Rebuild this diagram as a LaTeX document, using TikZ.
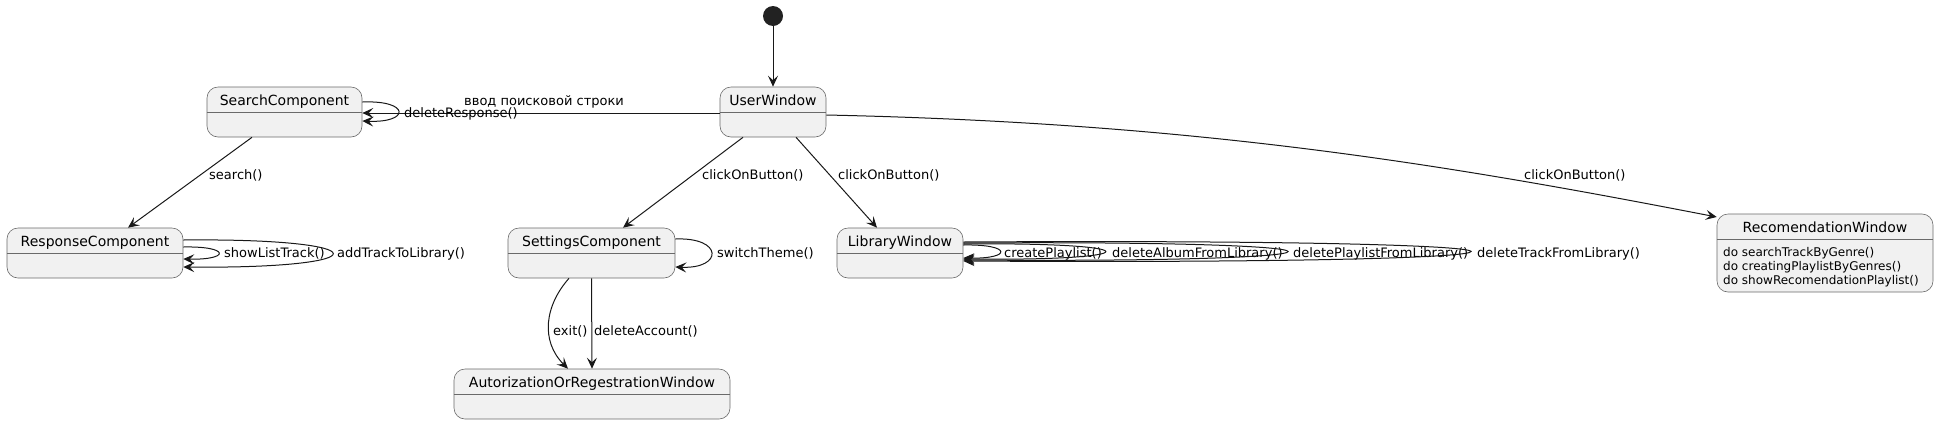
\documentclass[tikz,border=0pt]{standalone}
\usepackage{fontspec}
\setmainfont{DejaVu Sans}
\usetikzlibrary{arrows.meta}
\definecolor{boxfill}{HTML}{F1F1F1}
\definecolor{boxline}{HTML}{6A6A6A}
\definecolor{edgec}{HTML}{181818}
\definecolor{dotc}{HTML}{222222}
\begin{document}
\begin{tikzpicture}[x=1pt,y=-1pt,
  st/.style={draw=boxline, fill=boxfill, rounded corners=11pt, line width=0.6pt, minimum height=50pt, inner sep=0pt},
  ttl/.style={font=\fontsize{14}{16}\selectfont, anchor=base, inner sep=0pt},
  lbl/.style={font=\fontsize{13}{15}\selectfont, anchor=base west, inner sep=0pt},
  body/.style={font=\fontsize{12}{14}\selectfont, anchor=base west, inner sep=0pt},
  tr/.style={draw=edgec, line width=1pt, -{Stealth[length=11pt,width=10pt,inset=4.5pt]}},
  dv/.style={draw=boxline, line width=0.6pt}]
\useasboundingbox (0,0) rectangle (1937,424);

% initial state
\node[circle, fill=dotc, minimum size=20pt, inner sep=0pt] (init) at (773,16) {};

% states
\node[st, minimum width=106pt] (user) at (773,112) {};
\node[st, minimum width=155pt] (search) at (284.5,112) {};
\node[st, minimum width=176pt] (response) at (95,253) {};
\node[st, minimum width=167pt] (settings) at (591.5,253) {};
\node[st, minimum width=126pt] (library) at (900,253) {};
\node[st, minimum width=276pt] (autor) at (592,394) {};
\node[st, minimum width=216pt, minimum height=78pt] (recom) at (1825,253) {};

\foreach \n in {user,search,response,settings,library,autor,recom}{
  \draw[dv] ([yshift=-26pt]\n.north west) -- ([yshift=-26pt]\n.north east);
}

\node[ttl] (userT) at ([yshift=-18.5pt]user.north) {UserWindow};
\node[ttl] (searchT) at ([yshift=-18.5pt]search.north) {SearchComponent};
\node[ttl] (responseT) at ([yshift=-18.5pt]response.north) {ResponseComponent};
\node[ttl] (settingsT) at ([yshift=-18.5pt]settings.north) {SettingsComponent};
\node[ttl] (libraryT) at ([yshift=-18.5pt]library.north) {LibraryWindow};
\node[ttl] (autorT) at ([yshift=-18.5pt]autor.north) {AutorizationOrRegestrationWindow};
\node[ttl] (recomT) at ([yshift=-18.5pt]recom.north) {RecomendationWindow};

\node[body] (rb1) at (1723,256.3) {do searchTrackByGenre()};
\node[body] (rb2) at (1723,270.3) {do creatingPlaylistByGenres()};
\node[body] (rb3) at (1723,284.3) {do showRecomendationPlaylist()};

% transitions
\draw[tr] (init) -- (user);

\draw[tr] ([yshift=-1pt]user.west) -- ([yshift=-1pt]search.east);
\node[lbl] (lInput) at (464,105.5) {ввод поисковой строки};

\draw[tr] ([yshift=10pt]search.east) .. controls +(48,-2) and +(48,2) .. ([yshift=-9pt]search.east);
\node[lbl] (lDel) at (404,117.5) {deleteResponse()};

\draw[tr] ([xshift=-32.5pt]search.south) -- ([xshift=33pt]response.north);
\node[lbl] (lSearch) at (209,179.5) {search()};

\draw[tr] ([yshift=6pt]response.east) .. controls +(47,-1) and +(47,1) .. ([yshift=-6pt]response.east);
\node[lbl] (lShow) at (224,257.5) {showListTrack()};
\draw[tr] ([yshift=13pt]response.east) .. controls +(199,-2) and +(199,2) .. ([yshift=-14pt]response.east);
\node[lbl] (lAdd) at (337,257.5) {addTrackToLibrary()};

\draw[tr] ([xshift=-30pt]user.south) -- ([xshift=31.5pt]settings.north);
\node[lbl] (lClick1) at (702,179.5) {clickOnButton()};

\draw[tr] ([xshift=23pt]user.south) -- ([xshift=-23pt]library.north);
\node[lbl] (lClick2) at (838,179.5) {clickOnButton()};

\draw[tr] ([yshift=-3pt]user.east) .. controls +(374,8) and +(-268,-52) .. ([yshift=36pt]recom.west);
\node[lbl] (lClick3) at (1524,179.5) {clickOnButton()};

\draw[tr] ([yshift=14pt]settings.east) .. controls +(48,-2) and +(48,2) .. ([yshift=-14pt]settings.east);
\node[lbl] (lTheme) at (717,257.5) {switchTheme()};

\draw[tr] ([xshift=-22.5pt]settings.south) .. controls +(-24,27) and +(-28,-28) .. ([xshift=-24pt]autor.north);
\node[lbl] (lExit) at (553,335.5) {exit()};
\draw[tr] (settings.south) -- (autor.north);
\node[lbl] (lDelAcc) at (594,335.5) {deleteAccount()};

\draw[tr] ([yshift=8pt]library.east) .. controls +(49,-1) and +(49,1) .. ([yshift=-5pt]library.east);
\node[lbl] (lCreate) at (1004,257.5) {createPlaylist()};
\draw[tr] ([yshift=9pt]library.east) .. controls +(189,-2) and +(189,2) .. ([yshift=-6pt]library.east);
\node[lbl] (lAlbum) at (1112,257.5) {deleteAlbumFromLibrary()};
\draw[tr] ([yshift=10pt]library.east) .. controls +(432,-3) and +(432,3) .. ([yshift=-7pt]library.east);
\node[lbl] (lPlaylist) at (1293,257.5) {deletePlaylistFromLibrary()};
\draw[tr] ([yshift=11pt]library.east) .. controls +(676,-4) and +(676,4) .. ([yshift=-8pt]library.east);
\node[lbl] (lTrack) at (1477,257.5) {deleteTrackFromLibrary()};
\end{tikzpicture}
\end{document}
